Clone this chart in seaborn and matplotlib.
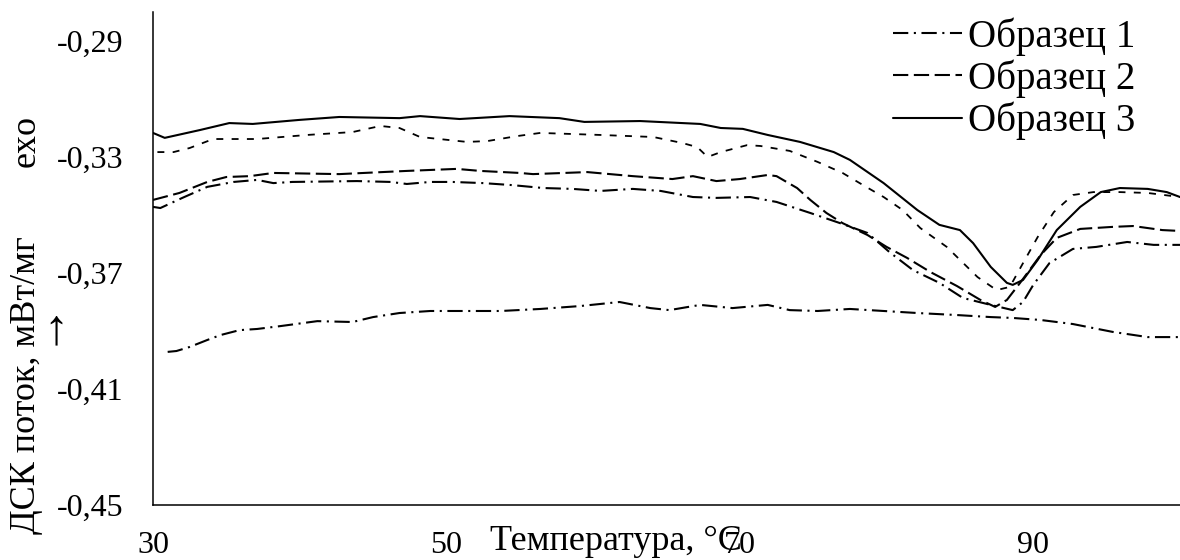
import matplotlib
matplotlib.use("Agg")
import matplotlib.pyplot as plt
import seaborn as sns
from matplotlib.ticker import FixedLocator, FuncFormatter

# ---------------- data ----------------
# Образец 1 (dash-dot, lowest curve)
s1_t = [31.0, 31.6, 32.5, 33.7, 34.6, 35.9, 37.1, 38.7, 41.2, 43.6, 45.0, 46.8, 48.9,
        50.9, 53.7, 56.4, 59.1, 61.8, 63.9, 65.2, 67.3, 69.5, 71.9, 73.4, 75.3, 77.5,
        79.8, 82.1, 84.8, 87.1, 88.6, 90.5, 92.7, 95.4, 97.8, 99.5, 100.0]
s1_v = [-0.3972, -0.3969, -0.3955, -0.3931, -0.3914, -0.3897, -0.3893, -0.3883, -0.3866,
        -0.3869, -0.3852, -0.3838, -0.3831, -0.3831, -0.3831, -0.3824, -0.3814, -0.3800,
        -0.3821, -0.3828, -0.3810, -0.3821, -0.3810, -0.3828, -0.3831, -0.3824, -0.3831,
        -0.3838, -0.3845, -0.3852, -0.3855, -0.3862, -0.3876, -0.3903, -0.3921, -0.3921,
        -0.3921]

# Образец 2 (long dashes)
s2_t = [30.0, 31.8, 33.7, 35.0, 36.6, 38.2, 42.7, 47.3, 50.7, 52.3, 55.0, 55.9, 59.6,
        62.7, 65.4, 66.8, 68.4, 70.0, 71.9, 72.5, 73.9, 74.8, 75.9, 77.0, 78.7, 80.0,
        81.4, 83.0, 84.8, 86.4, 87.4, 88.2, 89.1, 90.5, 91.6, 93.2, 95.4, 96.8, 98.8, 100.0]
s2_v = [-0.3448, -0.3424, -0.3386, -0.3369, -0.3366, -0.3355, -0.3359, -0.3348, -0.3341,
        -0.3348, -0.3355, -0.3359, -0.3352, -0.3366, -0.3376, -0.3366, -0.3383, -0.3376,
        -0.3362, -0.3366, -0.3407, -0.3448, -0.3493, -0.3528, -0.3569, -0.3610, -0.3648,
        -0.3697, -0.3745, -0.3793, -0.3817, -0.3793, -0.3734, -0.3638, -0.3579, -0.3548,
        -0.3541, -0.3538, -0.3552, -0.3555]

# Образец 3 (solid)
s3_t = [30.0, 30.8, 33.2, 35.2, 36.8, 40.0, 42.7, 46.8, 48.2, 50.9, 54.3, 57.7, 59.4,
        63.2, 67.3, 68.7, 70.2, 71.9, 74.1, 76.4, 77.5, 79.8, 82.1, 83.6, 85.0, 85.9,
        87.1, 88.2, 88.6, 89.3, 90.3, 91.6, 93.2, 94.6, 95.9, 97.8, 99.1, 100.0]
s3_v = [-0.3217, -0.3234, -0.3207, -0.3183, -0.3186, -0.3172, -0.3162, -0.3166, -0.3159,
        -0.3169, -0.3159, -0.3166, -0.3179, -0.3176, -0.3186, -0.3200, -0.3203, -0.3224,
        -0.3248, -0.3283, -0.3310, -0.3390, -0.3483, -0.3534, -0.3552, -0.3597, -0.3679,
        -0.3734, -0.3741, -0.3724, -0.3655, -0.3552, -0.3472, -0.3421, -0.3407, -0.3410,
        -0.3421, -0.3438]

# unlabelled curve (short dashes)
ex1_t = [30.3, 31.4, 32.5, 34.1, 37.1, 40.5, 43.6, 45.5, 46.8, 48.2, 51.4, 52.8, 54.8,
         56.4, 60.5, 64.1, 66.1, 67.1, 67.8, 68.7, 70.5, 71.4, 73.4, 75.3, 77.0, 78.4,
         79.8, 81.1, 82.3, 84.1, 86.2, 87.5, 88.4, 89.3, 90.3, 91.4, 92.7, 94.1, 95.9,
         97.8, 100.0]
ex1_v = [-0.3283, -0.3283, -0.3269, -0.3238, -0.3238, -0.3224, -0.3214, -0.3193, -0.3200,
         -0.3231, -0.3248, -0.3245, -0.3228, -0.3217, -0.3224, -0.3231, -0.3252, -0.3266,
         -0.3300, -0.3283, -0.3259, -0.3262, -0.3279, -0.3317, -0.3355, -0.3397, -0.3438,
         -0.3483, -0.3545, -0.3610, -0.3714, -0.3759, -0.3748, -0.3666, -0.3576, -0.3490,
         -0.3431, -0.3421, -0.3421, -0.3424, -0.3438]

# unlabelled curve (dash-dot, middle)
ex2_t = [30.0, 30.5, 32.0, 33.7, 35.5, 37.1, 38.2, 39.5, 43.9, 46.2, 47.3, 48.9, 50.4,
         52.5, 54.5, 56.6, 58.6, 60.5, 62.7, 64.6, 66.8, 68.4, 70.7, 72.5, 74.8, 77.0,
         78.7, 80.2, 81.8, 83.6, 85.2, 87.1, 88.6, 89.3, 90.0, 91.1, 92.7, 94.3, 96.4,
         98.2, 100.0]
ex2_v = [-0.3472, -0.3476, -0.3441, -0.3403, -0.3386, -0.3379, -0.3390, -0.3386, -0.3383,
         -0.3386, -0.3393, -0.3386, -0.3386, -0.3390, -0.3397, -0.3407, -0.3410, -0.3417,
         -0.3410, -0.3417, -0.3438, -0.3441, -0.3438, -0.3455, -0.3493, -0.3531, -0.3562,
         -0.3628, -0.3690, -0.3734, -0.3786, -0.3810, -0.3828, -0.3800, -0.3741, -0.3666,
         -0.3617, -0.3610, -0.3593, -0.3603, -0.3603]

legend_labels = ["Образец 1", "Образец 2", "Образец 3"]
x_ticks = [30, 50, 70, 90]
y_ticks = [-0.45, -0.41, -0.37, -0.33, -0.29]

# ---------------- style ----------------
sns.set_theme(style="white")
plt.rcParams["font.family"] = ["Liberation Serif", "DejaVu Serif"]
plt.rcParams["lines.scale_dashes"] = False
plt.rcParams["text.color"] = "black"
plt.rcParams["axes.labelcolor"] = "black"
plt.rcParams["xtick.color"] = "black"
plt.rcParams["ytick.color"] = "black"

W, H = 1180, 560
fig = plt.figure(figsize=(W / 100, H / 100), dpi=100, facecolor="white")
ax = fig.add_axes([153 / W, 55 / H, 1027 / W, 493 / H])

lw = 1.5
dashdot = (0, (11, 4, 1.5, 4))
sns.lineplot(x=ex1_t, y=ex1_v, ax=ax, color="black", lw=1.3,
             linestyle=(0, (5, 6)), legend=False)
sns.lineplot(x=ex2_t, y=ex2_v, ax=ax, color="black", lw=lw,
             linestyle=dashdot, legend=False)
sns.lineplot(x=s1_t, y=s1_v, ax=ax, color="black", lw=lw, linestyle=dashdot)
l1 = ax.lines[-1]
sns.lineplot(x=s2_t, y=s2_v, ax=ax, color="black", lw=lw, linestyle=(0, (11, 4)))
l2 = ax.lines[-1]
sns.lineplot(x=s3_t, y=s3_v, ax=ax, color="black", lw=lw, linestyle="-")
l3 = ax.lines[-1]

ax.set_xlim(30, 100)
ax.set_ylim(-0.45, -0.28)
ax.xaxis.set_major_locator(FixedLocator(x_ticks))
ax.yaxis.set_major_locator(FixedLocator(y_ticks))
ax.xaxis.set_major_formatter(FuncFormatter(lambda v, p: f"{v:.0f}"))
ax.yaxis.set_major_formatter(FuncFormatter(lambda v, p: f"{v:.2f}".replace(".", ",")))
ax.tick_params(axis="x", length=0, pad=19, labelsize=23)
ax.tick_params(axis="y", length=0, pad=21, labelsize=23)

for side in ["top", "right"]:
    ax.spines[side].set_visible(False)
for side in ["left", "bottom"]:
    ax.spines[side].set_color("black")
    ax.spines[side].set_linewidth(1.1)
ax.grid(False)

ax.set_xlabel("Температура, °С", fontsize=26)
ax.xaxis.label.set_va("baseline")
ax.xaxis.set_label_coords(0.451, (505 - 550) / 493)

ax.set_ylabel("ДСК поток, мВт/мг", fontsize=26)
ax.yaxis.set_label_coords((43 - 153) / 1027, (505 - 385) / 493)
ax.text((43 - 153) / 1027, (505 - 141) / 493, "exo", transform=ax.transAxes,
        rotation=90, rotation_mode="anchor", ha="center", va="bottom", fontsize=26)
fig.text(56 / W, 1 - 331 / H, "↑", ha="center", va="center", fontsize=36,
         fontweight="light")

ax.legend(handles=[l1, l2, l3], labels=legend_labels, loc="upper left",
          bbox_to_anchor=(893 / W, 1 - 17 / H), bbox_transform=fig.transFigure,
          frameon=False, fontsize=28, handlelength=1.77, handletextpad=0.15,
          labelspacing=0.1, borderpad=0, borderaxespad=0)

fig.savefig("out.png", dpi=100, facecolor="white")
